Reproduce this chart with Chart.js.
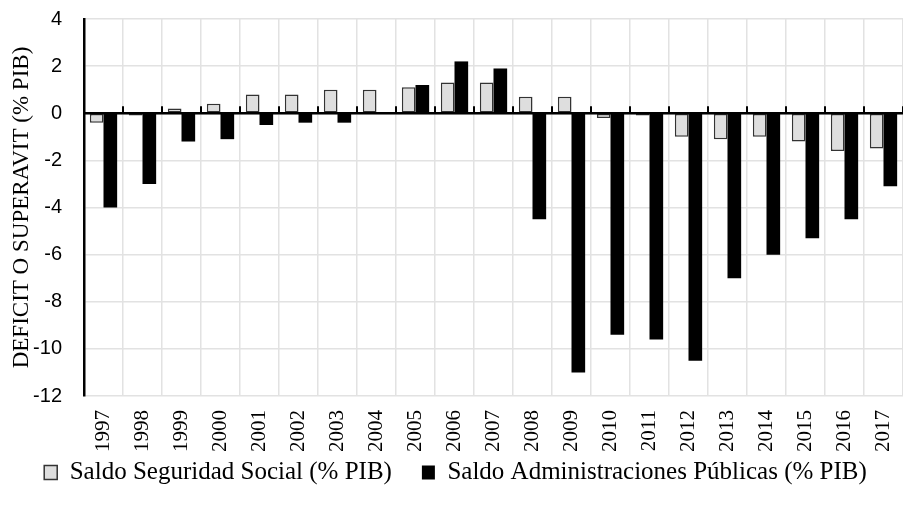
<!DOCTYPE html>
<html>
<head>
<meta charset="utf-8">
<script src="https://cdn.jsdelivr.net/npm/chart.js@4.4.1/dist/chart.umd.min.js"></script>
<style>
  html, body { margin: 0; padding: 0; background: #fff; }
  #wrap { width: 903px; height: 509px; position: relative; }
</style>
</head>
<body>
<div id="wrap"><canvas id="myChart"></canvas></div>
<script>
// Les données
const years = ["1997", "1998", "1999", "2000", "2001", "2002", "2003", "2004", "2005", "2006", "2007",
  "2008", "2009", "2010", "2011", "2012", "2013", "2014", "2015", "2016", "2017"];
const seguridadSocial = [-0.4, -0.1, 0.2, 0.4, 0.8, 0.8, 1.0, 1.0, 1.1, 1.3, 1.3,
  0.7, 0.7, -0.2, -0.1, -1.0, -1.1, -1.0, -1.2, -1.6, -1.5];
const administraciones = [-4.0, -3.0, -1.2, -1.1, -0.5, -0.4, -0.4, 0, 1.2, 2.2, 1.9,
  -4.5, -11.0, -9.4, -9.6, -10.5, -7.0, -6.0, -5.3, -4.5, -3.1];
const yTicks = [4, 2, 0, -2, -4, -6, -8, -10, -12];

const ctx = document.querySelector("#myChart").getContext("2d");
const serif = "Liberation Serif";
Chart.defaults.font.family = serif;
Chart.defaults.color = "#000";

// petits traits sur la ligne du zéro, entre chaque année
const zeroTicks = {
  id: "zeroTicks",
  afterDatasetsDraw(chart) {
    const x = chart.scales.x;
    const y0 = chart.scales.y.getPixelForValue(0);
    const c = chart.ctx;
    c.save();
    c.strokeStyle = "#000";
    c.lineWidth = 2;
    for (let i = 0; i <= years.length; i++) {
      const px = Math.round(x.getPixelForValue(i - 0.5));
      c.beginPath();
      c.moveTo(px, y0);
      c.lineTo(px, y0 - 7);
      c.stroke();
    }
    // ligne du zéro par-dessus les barres
    c.lineWidth = 2.5;
    c.beginPath();
    c.moveTo(chart.chartArea.left, y0);
    c.lineTo(chart.chartArea.right, y0);
    c.stroke();
    c.restore();
  }
};

// la légende prend moins de hauteur, puis on la remonte un peu
const LEGEND_H = 55;
const LEGEND_SHIFT = 24;
const legendFix = {
  id: "legendFix",
  beforeLayout(chart) {
    const lg = chart.legend;
    if (lg && !lg._fixed) {
      const fit = lg.fit.bind(lg);
      lg.fit = function () { fit(); this.height = LEGEND_H; };
      lg._fixed = true;
    }
  },
  afterLayout(chart) {
    const lg = chart.legend;
    if (lg) { lg.top -= LEGEND_SHIFT; lg.bottom -= LEGEND_SHIFT; }
  }
};

new Chart(ctx, {
  type: "bar",
  data: {
    labels: years,
    datasets: [
      {
        label: "Saldo Seguridad Social (% PIB)",
        data: seguridadSocial,
        backgroundColor: "#dedede",
        borderColor: "#333",
        borderWidth: 1.5,
        borderSkipped: false,
        categoryPercentage: 0.7,
        barPercentage: 1.0
      },
      {
        label: "Saldo Administraciones Públicas (% PIB)",
        data: administraciones,
        backgroundColor: "#000",
        borderColor: "#000",
        borderWidth: 0,
        categoryPercentage: 0.7,
        barPercentage: 1.0
      }
    ]
  },
  options: {
    responsive: true,
    maintainAspectRatio: false,
    animation: false,
    layout: { padding: { top: 19, left: 8, right: 0, bottom: 0 } },
    plugins: {
      tooltip: { enabled: false },
      legend: {
        position: "bottom",
        labels: {
          color: "#000",
          font: { family: serif, size: 25 },
          boxWidth: 13,
          boxHeight: 14,
          padding: 30
        }
      }
    },
    scales: {
      x: {
        offset: true,
        grid: { offset: true, color: "#e2e2e2", lineWidth: 1.5, drawTicks: false },
        border: { display: false },
        ticks: {
          color: "#000",
          font: { family: serif, size: 21 },
          minRotation: 90,
          maxRotation: 90,
          padding: 14
        },
        afterFit: (axis) => { axis.paddingLeft = 0; axis.paddingRight = 0; axis.height = 58; }
      },
      y: {
        min: -12,
        max: 4,
        afterBuildTicks: (axis) => { axis.ticks = yTicks.map((v) => ({ value: v })); },
        afterFit: (axis) => { axis.width = 76; axis.paddingTop = 0; axis.paddingBottom = 0; },
        grid: {
          color: "#e2e2e2",
          lineWidth: 1.5,
          drawTicks: false
        },
        border: { display: true, color: "#000", width: 2.5 },
        ticks: {
          color: "#000",
          font: { family: "Liberation Sans", size: 20 },
          padding: 22
        },
        title: {
          display: true,
          text: "DEFICIT O SUPERAVIT (% PIB)",
          color: "#000",
          font: { family: serif, size: 23 },
          padding: { top: 0, bottom: 0 }
        }
      }
    }
  },
  plugins: [zeroTicks, legendFix]
});
</script>
</body>
</html>
